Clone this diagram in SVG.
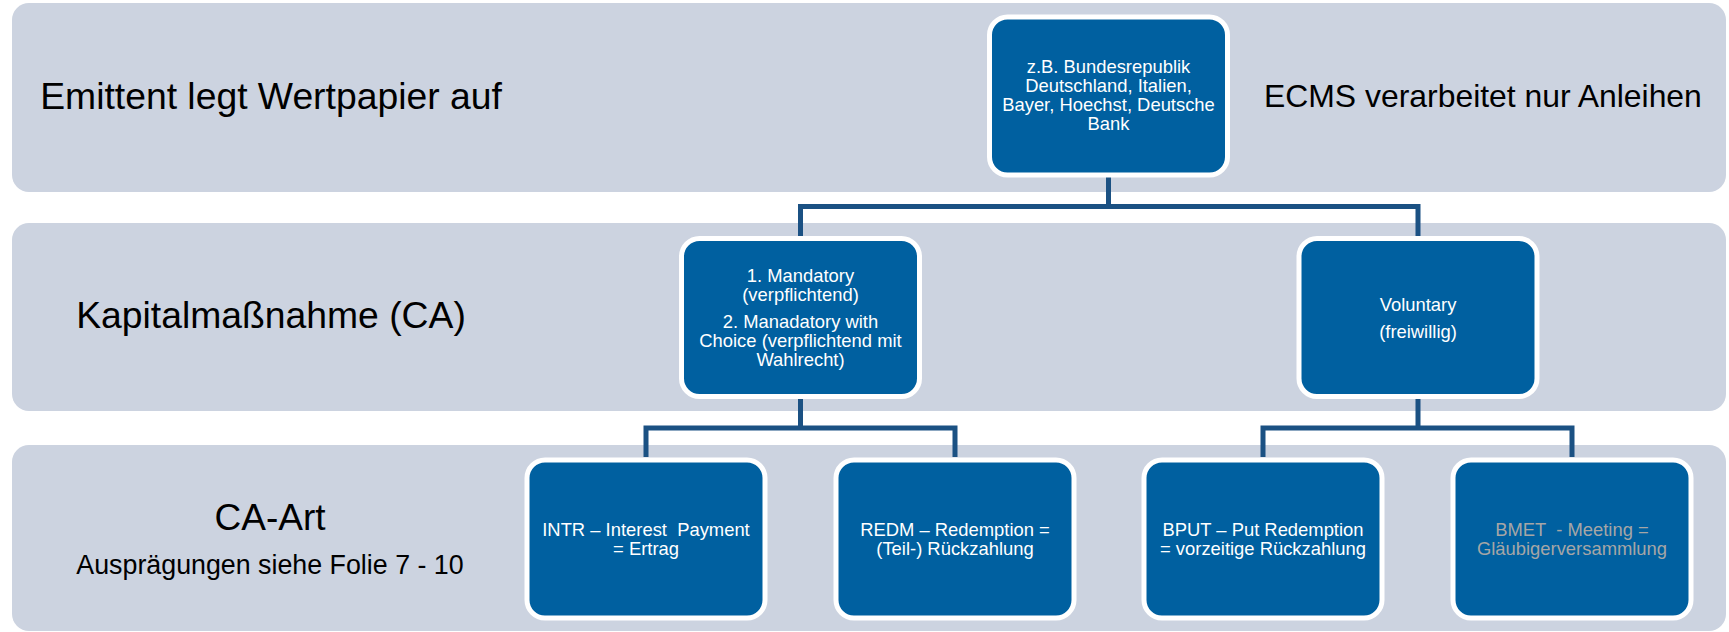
<svg xmlns="http://www.w3.org/2000/svg" width="1729" height="632" viewBox="0 0 1729 632">
<style>
.band{fill:#CCD3E0}
.lbl{font-family:"Liberation Sans",Arial,sans-serif;fill:#000;text-anchor:middle}
.node rect{fill:#0060A0;stroke:#FFFFFF;stroke-width:5}
.node text{font-family:"Liberation Sans",Arial,sans-serif;font-size:18.4px;fill:#FFFFFF;text-anchor:middle}
.node text.grey{fill:#A6A6A6}
.conn{fill:none;stroke:#1B5183;stroke-width:5;stroke-linejoin:miter}
</style>
<rect width="1729" height="632" fill="#FFFFFF"/>
<g id="bands">
<rect class="band" x="12" y="3" width="1714" height="189" rx="17"/>
<rect class="band" x="12" y="223" width="1714" height="188" rx="17"/>
<rect class="band" x="12" y="445" width="1714" height="186" rx="17"/>
</g>
<g id="labels">
<text class="lbl" x="271" y="109" font-size="37.3">Emittent legt Wertpapier auf</text>
<text class="lbl" x="271" y="328" font-size="37.3">Kapitalmaßnahme (CA)</text>
<text class="lbl" x="270" y="530" font-size="37">CA-Art</text>
<text class="lbl" x="270" y="574" font-size="26.8">Ausprägungen siehe Folie 7 - 10</text>
<text class="lbl" x="1264" y="107" font-size="31.9" style="text-anchor:start">ECMS verarbeitet nur Anleihen</text>
</g>
<g id="connectors">
<path class="conn" d="M1108.5 177 V206.5 M800.5 236 V206.5 H1418 V236"/>
<path class="conn" d="M800.5 399 V428 M646 457 V428 H955 V457"/>
<path class="conn" d="M1418 399 V428 M1263 457 V428 H1572 V457"/>
</g>
<g id="node-issuer" class="node">
<rect x="989.5" y="17" width="238" height="158" rx="18"/>
<text x="1108.5" y="73">z.B. Bundesrepublik</text>
<text x="1108.5" y="92">Deutschland, Italien,</text>
<text x="1108.5" y="111">Bayer, Hoechst, Deutsche</text>
<text x="1108.5" y="130">Bank</text>
</g>
<g id="node-mandatory" class="node">
<rect x="681.5" y="238.5" width="238" height="158" rx="18"/>
<text x="800.5" y="281.5">1. Mandatory</text>
<text x="800.5" y="300.5">(verpflichtend)</text>
<text x="800.5" y="328">2. Manadatory with</text>
<text x="800.5" y="347">Choice (verpflichtend mit</text>
<text x="800.5" y="366">Wahlrecht)</text>
</g>
<g id="node-voluntary" class="node">
<rect x="1299" y="238.5" width="238" height="158" rx="18"/>
<text x="1418" y="311">Voluntary</text>
<text x="1418" y="338">(freiwillig)</text>
</g>
<g id="node-intr" class="node">
<rect x="527" y="460" width="238" height="158" rx="18"/>
<text x="646" y="536" xml:space="preserve">INTR – Interest  Payment</text>
<text x="646" y="555">= Ertrag</text>
</g>
<g id="node-redm" class="node">
<rect x="836" y="460" width="238" height="158" rx="18"/>
<text x="955" y="536">REDM – Redemption =</text>
<text x="955" y="555">(Teil-) Rückzahlung</text>
</g>
<g id="node-bput" class="node">
<rect x="1144" y="460" width="238" height="158" rx="18"/>
<text x="1263" y="536">BPUT – Put Redemption</text>
<text x="1263" y="555">= vorzeitige Rückzahlung</text>
</g>
<g id="node-bmet" class="node">
<rect x="1453" y="460" width="238" height="158" rx="18"/>
<text class="grey" x="1572" y="536" xml:space="preserve">BMET  - Meeting =</text>
<text class="grey" x="1572" y="555">Gläubigerversammlung</text>
</g>
</svg>
